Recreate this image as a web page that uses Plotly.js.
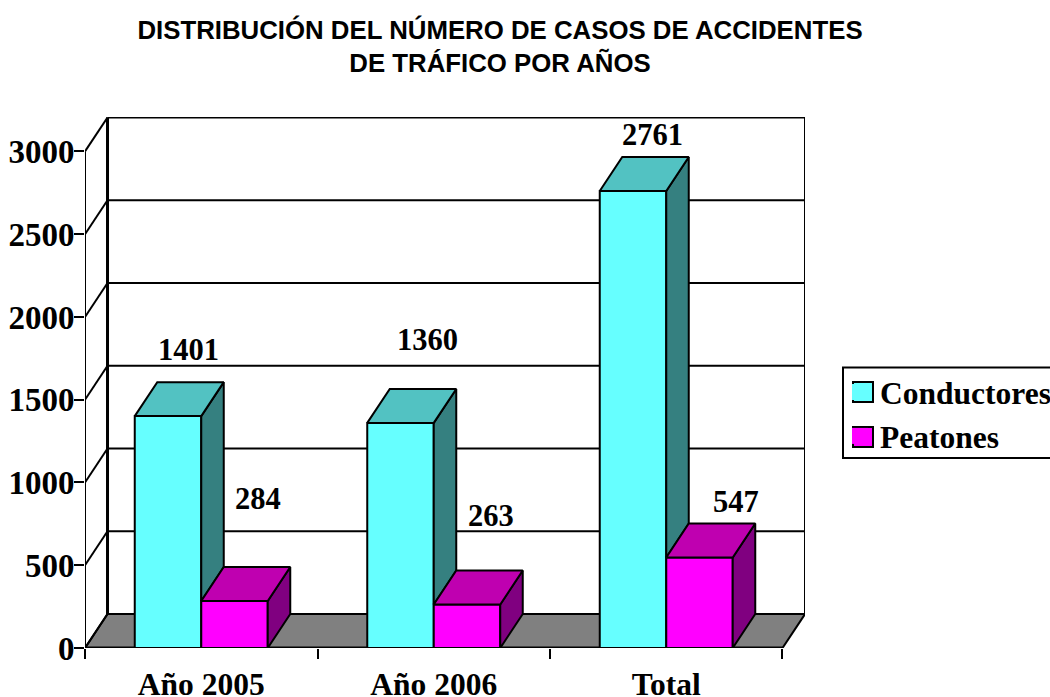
<!DOCTYPE html>
<html><head><meta charset="utf-8">
<script src="https://cdn.plot.ly/plotly-3.0.1.min.js"></script>
<style>html,body{margin:0;padding:0;background:#fff;overflow:hidden}</style>
</head><body><div id="chart" style="width:1050px;height:697px"></div>
<script>
const categories = ['Año 2005', 'Año 2006', 'Total'];
const conductores = [1401, 1360, 2761];
const peatones = [284, 263, 547];
const yTicks = [0, 500, 1000, 1500, 2000, 2500, 3000];

// 3D look, in axis units
const DX = 0.0968, DY = 205, BW = 0.286, yMax = 3208, nCat = categories.length;
const colC = {front:'#66FFFF', top:'#52C2C2', side:'#358080'};
const colP = {front:'#FF00FF', top:'#BF00B0', side:'#800080'};
const idx = categories.map((_, i) => i + 0.5);

function faceTrace(polys, color){
  const x = [], y = [];
  polys.forEach(p => { p.forEach(q => { x.push(q[0]); y.push(q[1]); }); x.push(p[0][0]); y.push(p[0][1]); x.push(null); y.push(null); });
  return {type:'scatter', mode:'lines', x, y, fill:'toself', fillcolor:color,
          line:{color:'#000', width:2}, showlegend:false, hoverinfo:'skip', cliponaxis:false};
}
const barFront = (name, vals, off, col) => ({type:'bar', name, x:idx, y:vals, width:BW, offset:off,
  marker:{color:col.front, line:{color:'#000', width:2}}, showlegend:false, hoverinfo:'x+y'});
const topFace = (x0, v) => [[x0,v],[x0+BW,v],[x0+BW+DX,v+DY],[x0+DX,v+DY]];
const sideFace = (x1, v, base) => [[x1,base],[x1+DX,base+DY],[x1+DX,v+DY],[x1,v]];

const traces = [
  barFront('Conductores', conductores, -BW, colC),
  barFront('Peatones', peatones, 0, colP),
  faceTrace(idx.map((c,i) => sideFace(c, conductores[i], peatones[i])), colC.side),
  faceTrace(idx.map((c,i) => topFace(c-BW, conductores[i])), colC.top),
  faceTrace(idx.map((c,i) => sideFace(c+BW, peatones[i], 0)), colP.side),
  faceTrace(idx.map((c,i) => topFace(c, peatones[i])), colP.top),
  {type:'scatter', mode:'markers', name:'Conductores', x:[null], y:[null],
   marker:{symbol:'square', size:16, color:colC.front, line:{width:0}}},
  {type:'scatter', mode:'markers', name:'Peatones', x:[null], y:[null],
   marker:{symbol:'square', size:16, color:colP.front, line:{width:0}}}
];

const ln = (x0,y0,x1,y1,w) => ({type:'line', xref:'x', yref:'y', layer:'below', x0,y0,x1,y1, line:{color:'#000', width:w||2}});
const shapes = [
  {type:'path', xref:'x', yref:'y', layer:'below',
   path:`M0,0L${nCat},0L${nCat+DX},${DY}L${DX},${DY}Z`, fillcolor:'#808080', line:{color:'#000', width:2}},
  ln(DX, DY, DX, 3000+DY, 3),
  ln(nCat+DX, DY, nCat+DX, 3000+DY, 2),
  ln(0, 0, 0, 3000, 2),
  ln(0, 0, nCat, 0, 3)
];
yTicks.forEach(v => {
  shapes.push(ln(0, v, DX, v+DY, 2));
  shapes.push(ln(DX, v+DY, nCat+DX, v+DY, 2));
});
// legend frame and swatch frames sit under the real legend entries
const M = {l:85, r:245, t:117, b:49};
const box = (x0, y0, x1, y1, fill) => ({type:'rect', xref:'paper', yref:'paper', layer:'above',
  x0:(x0-M.l)/(1050-M.l-M.r), x1:(x1-M.l)/(1050-M.l-M.r),
  y0:(697-M.b-y0)/(697-M.t-M.b), y1:(697-M.b-y1)/(697-M.t-M.b),
  fillcolor:fill, line:{color:'#000', width:2}});
shapes.push(box(843, 367.5, 1054, 458, '#fff'));
shapes.push(box(853, 382, 873, 402, colC.front));
shapes.push(box(853, 427, 873, 447, colP.front));

const serif = '"Liberation Serif", serif';
const vf = {family:serif, size:30.5, color:'#000', weight:700};
const note = (x, y, text) => ({xref:'x', yref:'y', x, y, text:String(text), showarrow:false,
  xanchor:'center', yanchor:'middle', font:vf});
const annotations = [
  note(0.443, 1800, conductores[0]), note(1.473, 1860, conductores[1]), note(2.44, 3100, conductores[2]),
  note(0.744, 900, peatones[0]), note(1.746, 800, peatones[1]), note(2.80, 880, peatones[2])
];

const layout = {
  width:1050, height:697, paper_bgcolor:'#fff', plot_bgcolor:'rgba(0,0,0,0)',
  margin:{l:M.l, r:M.r, t:M.t, b:M.b, pad:0, autoexpand:false},
  title:{text:'DISTRIBUCIÓN DEL NÚMERO DE CASOS DE ACCIDENTES<br>DE TRÁFICO POR AÑOS',
    x:500/1050, xanchor:'center', y:1-38.5/697, yanchor:'top',
    font:{family:'"Liberation Sans", Arial, sans-serif', size:25.8, color:'#000', weight:700}},
  barmode:'overlay', showlegend:true,
  legend:{x:840/1050, xref:'container', xanchor:'left', y:1-365/697, yref:'container', yanchor:'top',
    bgcolor:'rgba(0,0,0,0)', borderwidth:0, font:{family:serif, size:31.5, color:'#000', weight:700}},
  xaxis:{range:[0, nCat+DX], tickmode:'array', tickvals:idx, ticktext:categories, showgrid:false, zeroline:false,
    ticks:'', ticklabelstandoff:14, tickfont:{family:serif, size:31.5, color:'#000', weight:700}, showline:false, fixedrange:true,
    minor:{tickmode:'array', tickvals:[0,1,2,3], ticks:'outside', ticklen:10, tickwidth:2, tickcolor:'#000', showgrid:false}},
  yaxis:{range:[0, yMax], tickmode:'array', tickvals:yTicks, showgrid:false, zeroline:false, showline:false,
    ticks:'outside', ticklen:10, tickwidth:2, tickcolor:'#000', ticklabelstandoff:-7,
    tickfont:{family:serif, size:33, color:'#000', weight:700}, fixedrange:true},
  shapes, annotations
};
Plotly.newPlot('chart', traces, layout, {displayModeBar:false, responsive:false});
</script></body></html>
